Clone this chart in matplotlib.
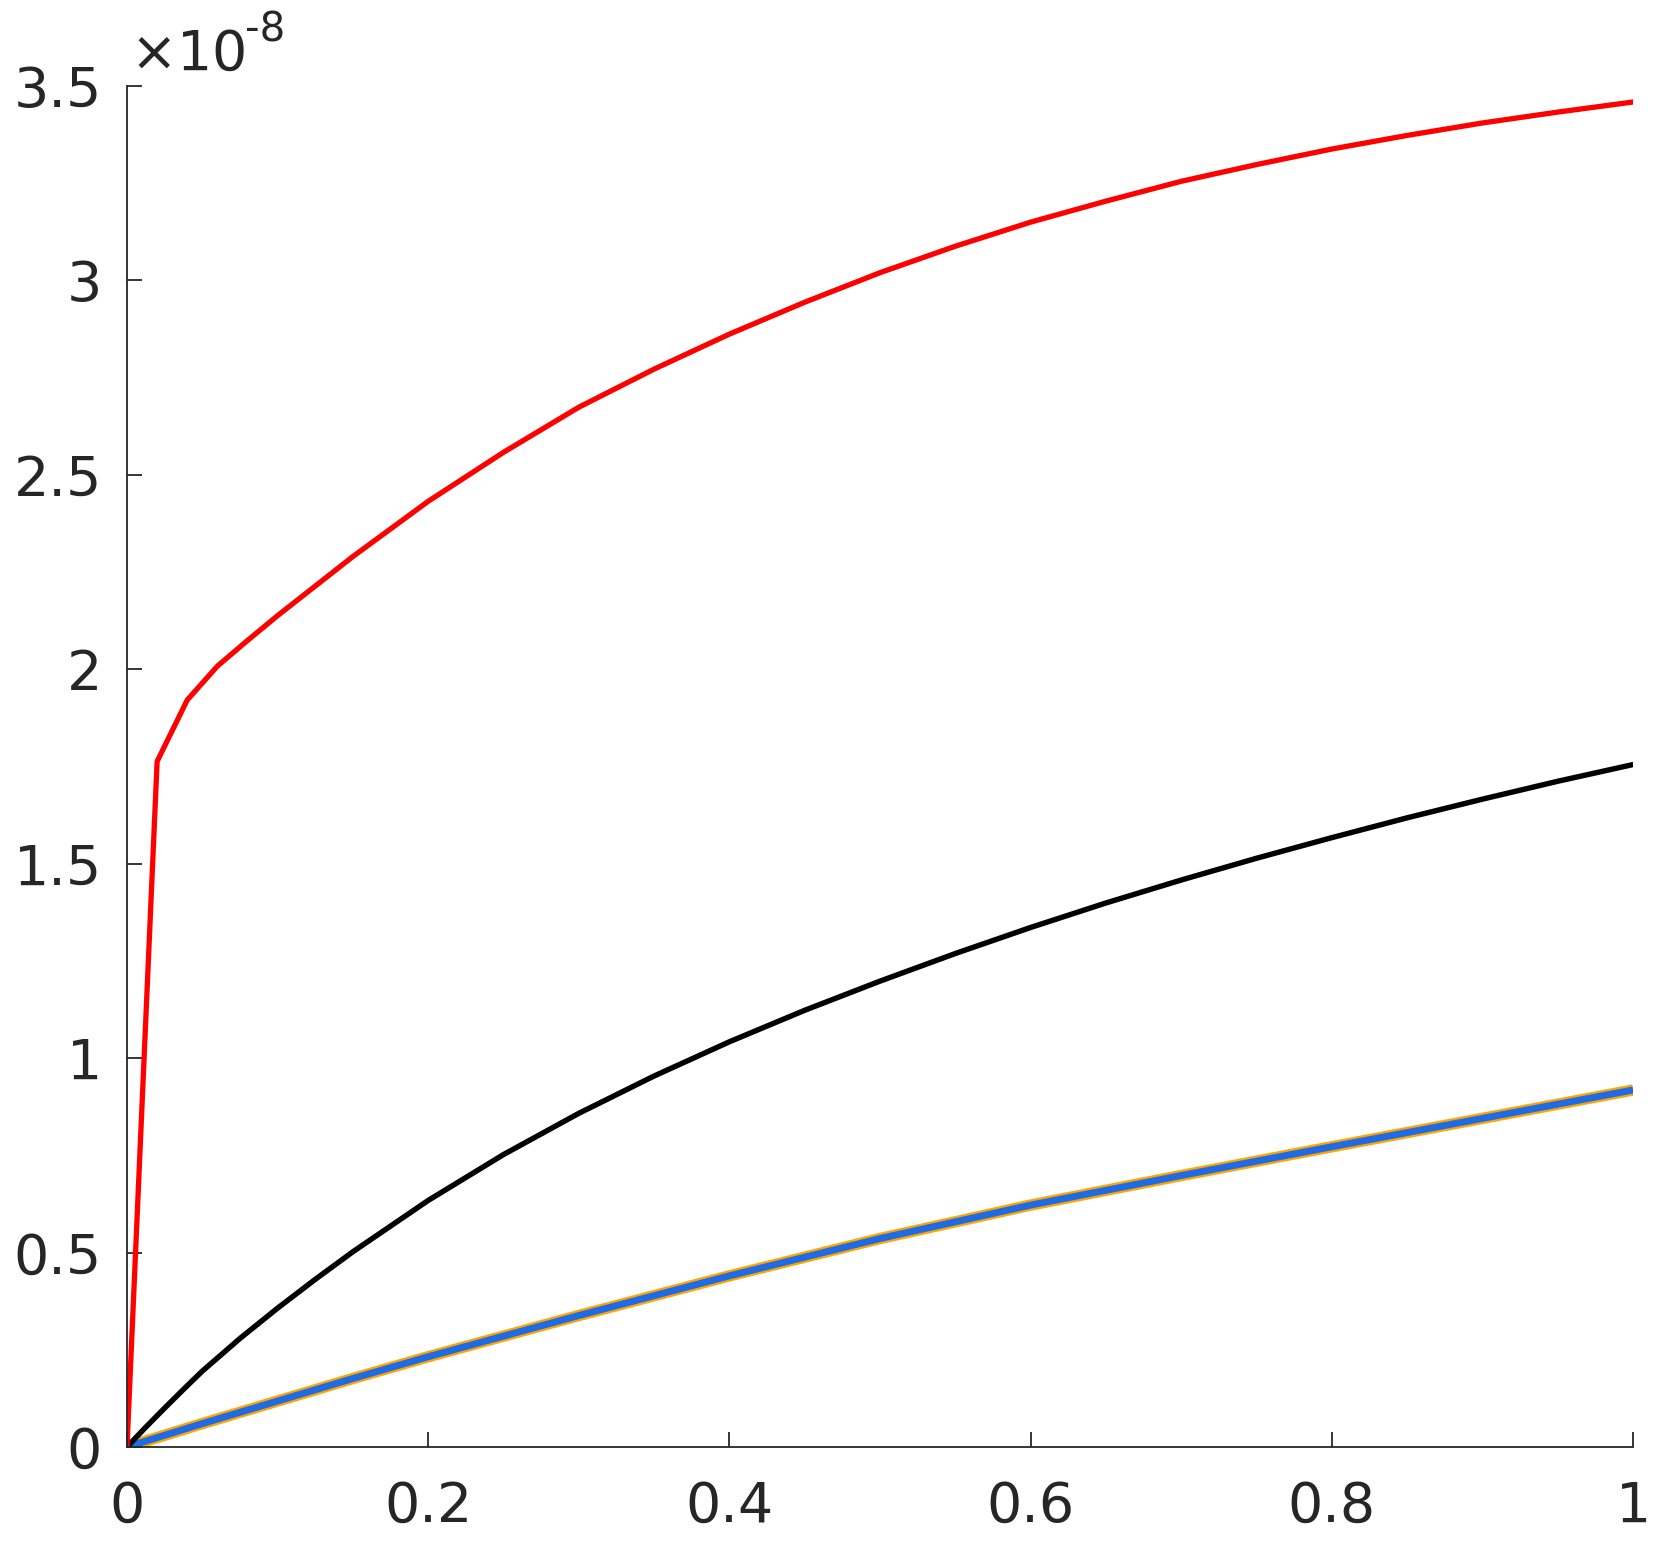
import matplotlib
matplotlib.use('Agg')
import matplotlib.pyplot as plt
import numpy as np
from matplotlib.ticker import FuncFormatter

# Datos (eje y en unidades de 1e-8)
x_red = [0, 0.02, 0.04, 0.06, 0.08, 0.10, 0.15, 0.20, 0.25, 0.30, 0.35, 0.40,
         0.45, 0.50, 0.55, 0.60, 0.65, 0.70, 0.75, 0.80, 0.85, 0.90, 0.95, 1.0]
y_red = [0, 1.763, 1.921, 2.008, 2.074, 2.138, 2.290, 2.432, 2.558, 2.674,
         2.772, 2.862, 2.944, 3.020, 3.088, 3.150, 3.204, 3.255, 3.298, 3.338,
         3.373, 3.405, 3.433, 3.459]

x_black = [0, 0.0125, 0.025, 0.0375, 0.05, 0.075, 0.10, 0.125, 0.15, 0.20,
           0.25, 0.30, 0.35, 0.40, 0.45, 0.50, 0.55, 0.60, 0.65, 0.70, 0.75,
           0.80, 0.85, 0.90, 0.95, 1.0]
y_black = [0, 0.051, 0.100, 0.148, 0.195, 0.279, 0.357, 0.431, 0.502, 0.634,
           0.752, 0.858, 0.954, 1.042, 1.123, 1.198, 1.269, 1.336, 1.399,
           1.458, 1.514, 1.567, 1.618, 1.666, 1.712, 1.755]

x_blue = [0, 0.05, 0.1, 0.15, 0.2, 0.3, 0.4, 0.5, 0.6, 0.7, 0.8, 0.9, 1.0]
y_blue = [0, 0.060, 0.118, 0.176, 0.232, 0.338, 0.440, 0.536, 0.622, 0.698,
          0.772, 0.845, 0.918]
y_orange = [0, 0.060, 0.118, 0.176, 0.232, 0.338, 0.440, 0.536, 0.622, 0.698,
            0.772, 0.845, 0.918]

escala = 1e-8
yticks = [0, 0.5, 1, 1.5, 2, 2.5, 3, 3.5]
xticks = [0, 0.2, 0.4, 0.6, 0.8, 1]

plt.rcParams['font.family'] = ['DejaVu Sans']
txt = '#262626'

fig = plt.figure(figsize=(16.58, 15.5), dpi=100)
ax = fig.add_axes([0.0766, 0.0665, 0.9084, 0.878])

ax.plot(x_blue, np.array(y_orange) * escala, color='#FFA500', lw=8.2,
        solid_capstyle='butt')
ax.plot(x_blue, np.array(y_blue) * escala, color='#1F6BE6', lw=5.0,
        solid_capstyle='butt')
ax.plot(x_black, np.array(y_black) * escala, color='black', lw=3.9)
ax.plot(x_red, np.array(y_red) * escala, color='#FF0000', lw=3.8)

ax.set_xlim(0, 1)
ax.set_ylim(0, 3.5 * escala)
ax.set_xticks(xticks)
ax.set_yticks([v * escala for v in yticks])
ax.xaxis.set_major_formatter(FuncFormatter(lambda v, p: f'{v:g}'))
ax.yaxis.set_major_formatter(FuncFormatter(lambda v, p: f'{v / escala:g}'))

for s in ['top', 'right']:
    ax.spines[s].set_visible(False)
for s in ['left', 'bottom']:
    ax.spines[s].set_color(txt)
    ax.spines[s].set_linewidth(1.3)
ax.tick_params(direction='in', length=11, width=1.3, colors=txt,
               labelsize=40)
ax.tick_params(axis='x', pad=24)
ax.tick_params(axis='y', pad=18)

fig.text(0.0785, 0.9548, r'$\times$10', fontsize=40, color=txt,
         ha='left', va='baseline')
fig.text(0.1475, 0.973, '-8', fontsize=29, color=txt,
         ha='left', va='baseline')

fig.savefig('out.png', dpi=100)
